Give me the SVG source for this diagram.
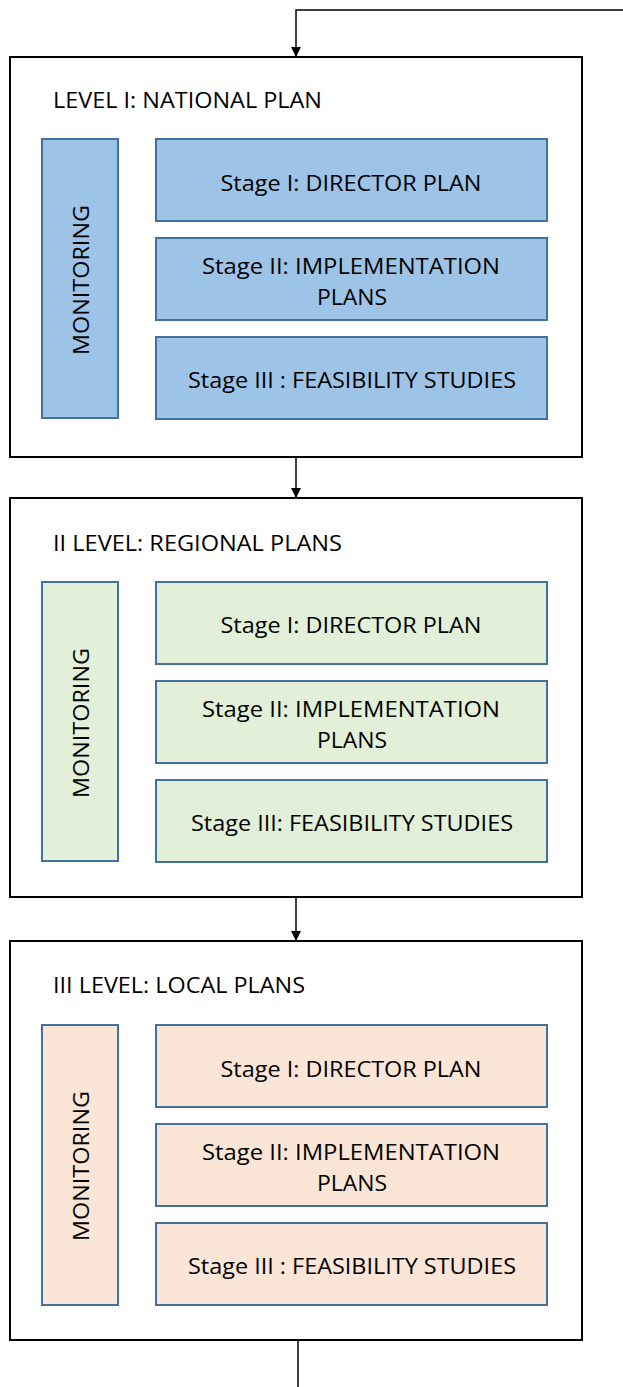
<svg xmlns="http://www.w3.org/2000/svg" width="623" height="1387" viewBox="0 0 623 1387">
<style>
.frame{fill:#fff;stroke:#000;stroke-width:2}
.b{fill:#9dc3e6;stroke:#41719c;stroke-width:2}
.g{fill:#e2f0d9;stroke:#41719c;stroke-width:2}
.p{fill:#fbe5d6;stroke:#41719c;stroke-width:2}
text{font-family:"Open Sans","Liberation Sans",sans-serif;font-size:22px;fill:#000}
.t{text-anchor:middle}
.c{stroke:#000;stroke-width:1.5;fill:none}
</style>
<defs>
<marker id="ah" markerWidth="10" markerHeight="10" refX="9" refY="5" orient="auto" markerUnits="userSpaceOnUse">
<path d="M0,0 L10,5 L0,10 z" fill="#000"/>
</marker>
</defs>
<g id="connectors">
<path class="c" d="M623,10 H296 V56" marker-end="url(#ah)" stroke="#555"/>
<path class="c" d="M296,457 V497" marker-end="url(#ah)"/>
<path class="c" d="M296,897 V940" marker-end="url(#ah)"/>
<path class="c" d="M298,1341 V1387"/>
</g>
<g id="level1">
<rect class="frame" x="10" y="57" width="572" height="400"/>
<text x="53" y="108" textLength="269" lengthAdjust="spacingAndGlyphs">LEVEL I: NATIONAL PLAN</text>
<g id="mon1"><rect class="b" x="42" y="139" width="76" height="279"/><text class="t" transform="translate(89,280) rotate(-90)" textLength="150" lengthAdjust="spacingAndGlyphs">MONITORING</text></g>
<g id="s1a"><rect class="b" x="156" y="139" width="391" height="82"/><text class="t" x="351" y="191" textLength="261" lengthAdjust="spacingAndGlyphs">Stage I: DIRECTOR  PLAN</text></g>
<g id="s1b"><rect class="b" x="156" y="238" width="391" height="82"/><text class="t" x="351" y="274" textLength="298" lengthAdjust="spacingAndGlyphs">Stage II: IMPLEMENTATION</text><text class="t" x="352" y="305" textLength="70" lengthAdjust="spacingAndGlyphs">PLANS</text></g>
<g id="s1c"><rect class="b" x="156" y="337" width="391" height="82"/><text class="t" x="352" y="388" textLength="328" lengthAdjust="spacingAndGlyphs">Stage III : FEASIBILITY STUDIES</text></g>
</g>
<g id="level2">
<rect class="frame" x="10" y="498" width="572" height="399"/>
<text x="53" y="551" textLength="289" lengthAdjust="spacingAndGlyphs">II LEVEL: REGIONAL PLANS</text>
<g id="mon2"><rect class="g" x="42" y="582" width="76" height="279"/><text class="t" transform="translate(89,723) rotate(-90)" textLength="150" lengthAdjust="spacingAndGlyphs">MONITORING</text></g>
<g id="s2a"><rect class="g" x="156" y="582" width="391" height="82"/><text class="t" x="351" y="633" textLength="261" lengthAdjust="spacingAndGlyphs">Stage I: DIRECTOR  PLAN</text></g>
<g id="s2b"><rect class="g" x="156" y="681" width="391" height="82"/><text class="t" x="351" y="717" textLength="298" lengthAdjust="spacingAndGlyphs">Stage II: IMPLEMENTATION</text><text class="t" x="352" y="748" textLength="70" lengthAdjust="spacingAndGlyphs">PLANS</text></g>
<g id="s2c"><rect class="g" x="156" y="780" width="391" height="82"/><text class="t" x="352" y="831" textLength="322" lengthAdjust="spacingAndGlyphs">Stage III: FEASIBILITY STUDIES</text></g>
</g>
<g id="level3">
<rect class="frame" x="10" y="941" width="572" height="399"/>
<text x="53" y="993" textLength="252" lengthAdjust="spacingAndGlyphs">III LEVEL: LOCAL PLANS</text>
<g id="mon3"><rect class="p" x="42" y="1025" width="76" height="280"/><text class="t" transform="translate(89,1166) rotate(-90)" textLength="150" lengthAdjust="spacingAndGlyphs">MONITORING</text></g>
<g id="s3a"><rect class="p" x="156" y="1025" width="391" height="82"/><text class="t" x="351" y="1077" textLength="261" lengthAdjust="spacingAndGlyphs">Stage I: DIRECTOR  PLAN</text></g>
<g id="s3b"><rect class="p" x="156" y="1124" width="391" height="82"/><text class="t" x="351" y="1160" textLength="298" lengthAdjust="spacingAndGlyphs">Stage II: IMPLEMENTATION</text><text class="t" x="352" y="1191" textLength="70" lengthAdjust="spacingAndGlyphs">PLANS</text></g>
<g id="s3c"><rect class="p" x="156" y="1223" width="391" height="82"/><text class="t" x="352" y="1274" textLength="328" lengthAdjust="spacingAndGlyphs">Stage III : FEASIBILITY STUDIES</text></g>
</g>
</svg>
